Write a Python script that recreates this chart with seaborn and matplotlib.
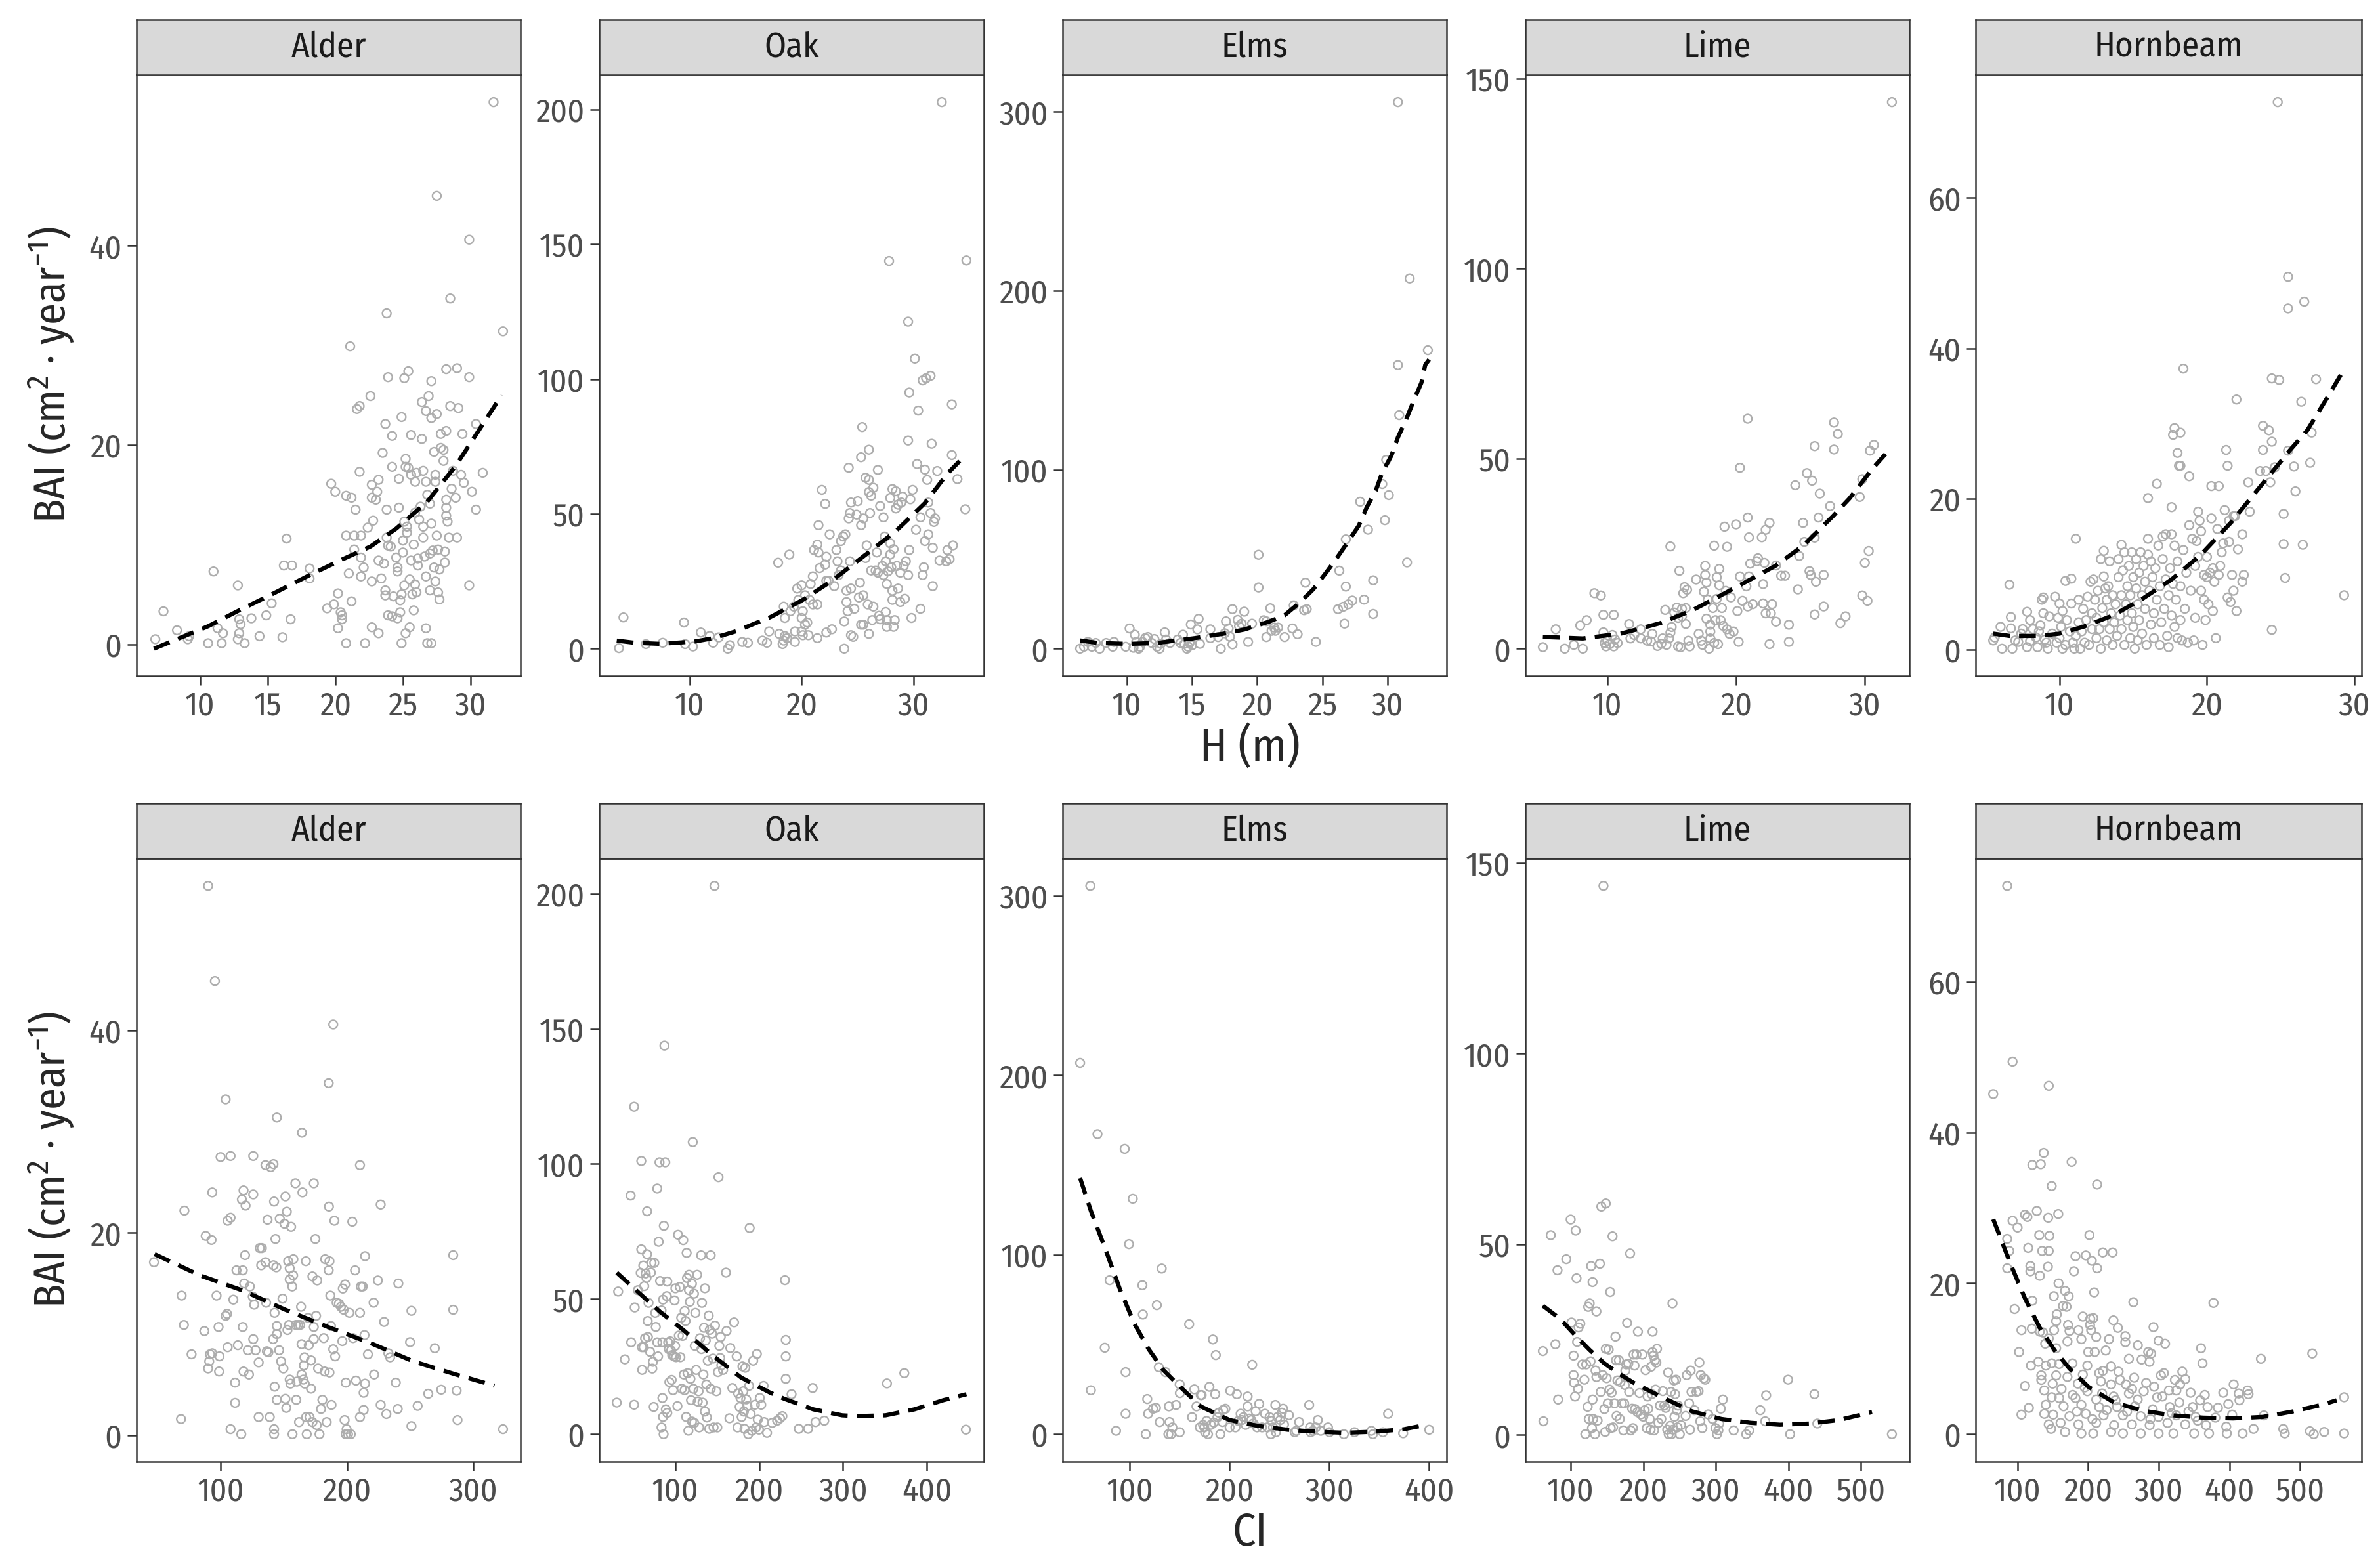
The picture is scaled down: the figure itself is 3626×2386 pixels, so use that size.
import numpy as np
import pandas as pd
import matplotlib
matplotlib.use('Agg')
import matplotlib.pyplot as plt
import seaborn as sns

sns.set_style('ticks')
plt.rcParams['font.family'] = ['Fira Sans Condensed', 'Roboto Condensed', 'IBM Plex Sans Condensed', 'DejaVu Sans']
plt.rcParams['mathtext.fontset'] = 'custom'
plt.rcParams['mathtext.rm'] = 'Fira Sans Condensed'
plt.rcParams['mathtext.it'] = 'Fira Sans Condensed:italic'

species = ['Alder', 'Oak', 'Elms', 'Lime', 'Hornbeam']

# ---- top row: H (m) vs BAI ----
alder_h = [
    (6.7, 0.5), (7.3, 3.3), (8.3, 1.4), (9.1, 0.5), (9.2, 0.8), (10.6, 0.1), (11.0, 7.3), (11.3, 1.6), (11.6, 0.1), (11.7, 1.1),
    (12.8, 5.9), (12.9, 2.5), (13.0, 2.0), (12.9, 1.1), (12.8, 0.5), (13.3, 0.1), (13.8, 2.6), (14.4, 0.8), (14.9, 2.9), (15.3, 4.1),
    (16.1, 0.7), (16.2, 7.9), (16.4, 10.6), (16.8, 7.9), (16.7, 2.5), (18.1, 7.6), (18.1, 6.6), (19.4, 3.6), (19.7, 16.1), (20.0, 15.3),
    (19.9, 4.0), (20.2, 5.1), (20.2, 1.6), (20.4, 3.2), (20.5, 2.5), (20.5, 2.9), (20.8, 14.9), (20.8, 10.9), (20.8, 0.1), (21.0, 7.1),
    (21.1, 29.9), (21.2, 14.7), (21.2, 4.3), (21.4, 10.9), (21.4, 9.5), (21.5, 13.5), (21.6, 23.6), (21.8, 23.9), (21.8, 17.3), (21.9, 6.8),
    (21.9, 8.7), (21.9, 10.9), (22.1, 7.7), (22.2, 0.1), (22.4, 11.7), (22.6, 24.9), (22.7, 16.0), (22.7, 14.7), (22.7, 6.3), (22.7, 1.7),
    (22.8, 12.4), (23.0, 14.5), (23.1, 15.3), (23.2, 16.5), (23.2, 1.1), (23.2, 8.4), (23.4, 6.6), (23.5, 19.2), (23.6, 8.1), (23.7, 5.4),
    (23.7, 4.9), (23.7, 22.1), (23.8, 33.2), (23.8, 13.5), (23.8, 10.7), (23.9, 26.8), (23.9, 9.9), (23.9, 2.9), (24.1, 9.8), (24.2, 2.8),
    (24.2, 17.8), (24.2, 20.9), (24.3, 4.8), (24.5, 8.7), (24.6, 7.7), (24.6, 7.3), (24.6, 2.6), (24.7, 13.7), (24.7, 16.6), (24.8, 4.4),
    (24.8, 3.2), (24.9, 0.1), (24.9, 22.8), (24.9, 5.0), (25.0, 10.4), (25.0, 9.2), (25.1, 12.3), (25.1, 26.7), (25.1, 5.9), (25.2, 1.1),
    (25.2, 17.8), (25.2, 18.6), (25.3, 11.2), (25.3, 11.8), (25.4, 27.4), (25.4, 17.7), (25.5, 1.7), (25.5, 6.5), (25.6, 21.0), (25.6, 8.4),
    (25.6, 17.0), (25.7, 5.0), (25.8, 3.4), (25.8, 10.0), (25.9, 16.3), (25.9, 13.2), (25.9, 6.0), (26.0, 17.2), (26.0, 5.2), (26.1, 8.6),
    (26.1, 7.9), (26.2, 12.5), (26.3, 13.8), (26.4, 20.6), (26.4, 24.3), (26.5, 17.4), (26.5, 11.8), (26.5, 10.7), (26.6, 8.8), (26.7, 1.6),
    (26.7, 23.4), (26.7, 16.3), (26.7, 6.8), (26.8, 15.0), (26.8, 0.1), (26.9, 24.9), (27.0, 5.4), (27.0, 9.1), (27.0, 14.1), (27.1, 0.1),
    (27.1, 26.4), (27.1, 22.7), (27.1, 12.1), (27.2, 9.4), (27.3, 7.7), (27.3, 19.3), (27.4, 6.3), (27.4, 17.0), (27.4, 16.3), (27.5, 10.9),
    (27.5, 23.1), (27.5, 45.0), (27.6, 9.5), (27.6, 5.2), (27.7, 7.5), (27.7, 4.5), (27.8, 19.7), (27.8, 21.1), (28.0, 18.4), (28.0, 19.5),
    (28.1, 9.3), (28.1, 8.2), (28.2, 14.5), (28.2, 27.6), (28.2, 13.7), (28.2, 12.9), (28.2, 21.4), (28.3, 12.3), (28.4, 10.7), (28.5, 34.7),
    (28.5, 23.9), (28.6, 15.6), (28.7, 17.4), (28.9, 14.7), (29.0, 10.7), (29.0, 27.7), (29.1, 23.7), (29.3, 17.0), (29.4, 21.1), (29.5, 16.2),
    (29.9, 5.9), (29.9, 40.6), (29.9, 26.8), (30.1, 15.3), (30.4, 13.5), (30.4, 22.1), (30.9, 17.2), (31.7, 54.4), (32.4, 31.4),
]
alder_h_fit = [(6.6, -0.45), (10.6, 1.8), (12.9, 3.4), (15.3, 5.0), (18.2, 7.0), (20.5, 8.5), (22.6, 9.8),
               (24.5, 11.6), (26.8, 14.3), (28.9, 17.9), (30.2, 20.6), (32.3, 25.0)]

oak_h = [
    (3.7, 0.2), (4.1, 11.6), (6.1, 1.7), (7.6, 2.2), (9.5, 9.7), (9.6, 1.7), (10.3, 0.8), (11.0, 6.0), (11.8, 4.7), (12.1, 2.2),
    (12.6, 4.2), (13.4, 0.0), (13.6, 1.3), (14.7, 2.5), (15.2, 2.2), (16.5, 3.0), (16.9, 2.2), (17.1, 6.4), (17.9, 31.9), (18.0, 5.5),
    (18.3, 1.7), (18.4, 3.0), (18.5, 4.7), (18.4, 15.6), (18.5, 11.4), (18.7, 3.9), (18.9, 34.9), (19.0, 13.9), (19.3, 15.6), (19.4, 6.4),
    (19.4, 2.5), (19.6, 22.3), (19.7, 18.1), (20.0, 23.5), (20.0, 11.4), (20.0, 6.4), (20.1, 13.9), (20.1, 5.0), (20.3, 19.8), (20.3, 8.9),
    (20.5, 9.7), (20.6, 5.0), (20.7, 18.1), (20.8, 24.0), (21.0, 26.8), (21.0, 16.4), (21.1, 36.6), (21.4, 38.6), (21.4, 16.4), (21.4, 3.9),
    (21.5, 45.8), (21.5, 35.7), (21.6, 29.9), (21.8, 58.9), (22.1, 53.7), (22.1, 31.2), (22.2, 25.2), (22.2, 6.0), (22.2, 34.1), (22.4, 25.2),
    (22.5, 42.4), (22.7, 7.2), (22.9, 23.2), (23.1, 36.6), (23.2, 32.4), (23.3, 27.3), (23.5, 29.0), (23.5, 39.9), (23.7, 41.6), (23.8, 10.1),
    (23.8, 0.0), (23.9, 42.4), (24.0, 17.3), (24.0, 21.5), (24.1, 13.9), (24.2, 67.1), (24.2, 48.3), (24.3, 50.3), (24.3, 32.4), (24.4, 22.3),
    (24.4, 5.0), (24.4, 54.2), (24.6, 4.4), (24.7, 14.8), (24.9, 49.7), (25.0, 54.7), (25.1, 19.0), (25.2, 24.5), (25.3, 45.8), (25.3, 8.9),
    (25.3, 71.0), (25.4, 82.2), (25.5, 19.8), (25.5, 48.3), (25.5, 8.9), (25.7, 33.6), (25.7, 63.4), (25.8, 38.3), (25.9, 16.4), (26.0, 5.5),
    (26.0, 58.1), (26.0, 73.8), (26.0, 62.6), (26.1, 50.3), (26.2, 56.7), (26.2, 29.0), (26.3, 10.6), (26.4, 15.6), (26.4, 59.7), (26.6, 29.0),
    (26.7, 35.7), (26.8, 28.2), (26.8, 66.3), (26.9, 12.2), (27.0, 10.9), (27.0, 52.9), (27.2, 30.7), (27.3, 48.7), (27.3, 27.3), (27.4, 41.6),
    (27.5, 13.6), (27.5, 32.4), (27.6, 24.0), (27.6, 8.1), (27.6, 10.6), (27.7, 28.7), (27.8, 143.8), (27.9, 55.9), (27.9, 39.1), (27.9, 34.9),
    (28.0, 30.2), (28.1, 59.2), (28.1, 21.5), (28.1, 18.1), (28.2, 8.1), (28.2, 36.9), (28.3, 10.6), (28.4, 52.0), (28.4, 58.4), (28.5, 30.7),
    (28.6, 53.4), (28.6, 22.3), (28.8, 28.2), (28.8, 17.3), (28.9, 54.2), (29.0, 56.4), (29.1, 30.7), (29.2, 18.5), (29.3, 32.4), (29.5, 121.3),
    (29.5, 77.2), (29.5, 27.3), (29.6, 36.6), (29.6, 95.0), (29.7, 55.4), (29.8, 11.4), (29.9, 58.9), (30.1, 107.6), (30.2, 44.1), (30.3, 68.5),
    (30.4, 88.3), (30.6, 14.8), (30.6, 48.7), (30.8, 27.3), (30.8, 99.5), (30.9, 30.2), (31.0, 39.9), (31.0, 66.4), (31.1, 100.3), (31.2, 62.6),
    (31.3, 54.2), (31.3, 42.4), (31.5, 50.3), (31.5, 101.2), (31.6, 76.0), (31.7, 37.4), (31.7, 23.2), (31.8, 47.0), (31.9, 48.3), (32.1, 65.9),
    (32.3, 32.7), (32.5, 202.7), (32.9, 32.4), (33.0, 36.6), (33.2, 33.2), (33.4, 90.6), (33.4, 71.8), (33.5, 38.3), (33.9, 62.9), (34.7, 144.0),
    (34.6, 51.7),
]
oak_h_fit = [(3.5, 3.0), (5.1, 2.2), (7.4, 1.8), (10.5, 2.7), (12.1, 3.9), (14.1, 6.4), (17.2, 11.7), (20.1, 18.1),
             (22.7, 25.2), (25.5, 34.2), (28.4, 43.6), (31.0, 54.0), (33.0, 64.9), (34.1, 69.6)]

elms_h = [
    (6.4, 0.0), (6.7, 1.1), (7.0, 3.8), (7.3, 1.1), (7.6, 3.2), (7.9, 0.0), (8.4, 3.2), (8.9, 1.1), (9.0, 3.8), (9.9, 1.1),
    (10.2, 11.3), (10.5, 0.5), (10.6, 7.8), (10.7, 3.8), (10.9, 0.0), (11.0, 1.1), (11.2, 3.8), (11.4, 5.9), (11.6, 6.5), (11.9, 3.2),
    (12.1, 5.4), (12.3, 1.1), (12.5, 0.0), (12.6, 2.7), (12.9, 9.1), (13.0, 5.1), (13.3, 3.2), (13.9, 5.1), (14.1, 3.2), (14.3, 7.8),
    (14.4, 2.7), (14.6, 0.0), (14.7, 1.1), (14.8, 3.2), (14.9, 13.5), (15.0, 1.9), (15.4, 10.8), (15.5, 16.7), (15.6, 2.7), (16.4, 10.8),
    (16.4, 5.9), (17.0, 6.5), (17.2, 0.0), (17.5, 8.6), (17.6, 15.3), (17.8, 11.3), (17.9, 6.7), (18.1, 2.4), (18.1, 22.1), (18.5, 16.1),
    (18.6, 12.6), (18.8, 14.0), (19.0, 20.7), (19.3, 3.8), (19.6, 14.0), (20.1, 52.5), (20.1, 34.2), (20.5, 15.9), (20.7, 15.3), (20.7, 6.5),
    (21.0, 22.6), (21.1, 10.0), (21.3, 11.8), (21.4, 10.0), (21.6, 11.8), (22.1, 6.5), (22.7, 11.3), (22.8, 24.2), (23.1, 8.1), (23.6, 21.5),
    (23.7, 36.9), (23.8, 22.1), (24.5, 3.8), (26.2, 22.1), (26.3, 43.6), (26.6, 23.4), (26.7, 14.0), (26.8, 34.7), (26.8, 61.1), (27.0, 24.8),
    (27.3, 26.9), (27.9, 82.1), (28.2, 27.4), (28.5, 66.5), (28.9, 19.4), (28.9, 38.2), (29.6, 92.0), (29.8, 71.8), (29.9, 105.5), (30.1, 85.8),
    (30.8, 305.4), (30.8, 158.5), (30.9, 130.5), (31.5, 48.2), (31.7, 206.9), (33.1, 166.8),
]
elms_h_fit = [(6.4, 4.6), (7.8, 3.2), (10.1, 2.7), (12.3, 3.2), (15.2, 5.9), (17.5, 8.5), (19.0, 10.7), (20.9, 15.1),
              (22.1, 18.7), (23.3, 26.0), (24.3, 33.2), (25.3, 42.6), (26.1, 50.6), (27.0, 60.1), (27.8, 68.8),
              (28.4, 78.9), (29.1, 88.4), (29.6, 98.5), (30.3, 107.9), (30.8, 118.1), (31.4, 127.5), (32.0, 138.4),
              (32.6, 148.6), (32.9, 158.7), (33.2, 161.6)]

lime_h = [
    (5.0, 0.4), (6.0, 5.1), (6.7, 0.0), (7.4, 1.0), (7.9, 6.1), (8.1, 0.0), (8.4, 7.5), (9.0, 14.6), (9.5, 14.0), (9.7, 4.3),
    (9.7, 8.9), (9.8, 1.5), (9.9, 0.6), (10.0, 2.1), (10.2, 1.2), (10.4, 3.6), (10.5, 8.9), (10.5, 0.6), (10.6, 2.4), (10.8, 1.5),
    (11.7, 6.5), (11.8, 2.7), (12.1, 3.6), (12.6, 5.1), (12.6, 2.7), (13.1, 2.1), (13.4, 1.9), (13.5, 3.9), (13.9, 0.7), (14.2, 1.3),
    (14.3, 2.7), (14.5, 10.2), (14.6, 1.0), (14.8, 2.7), (14.9, 4.2), (14.9, 26.9), (15.0, 5.7), (15.2, 9.5), (15.4, 10.8), (15.5, 0.6),
    (15.5, 8.1), (15.6, 20.5), (15.7, 0.4), (15.8, 10.5), (15.8, 8.5), (15.9, 14.6), (16.0, 16.2), (16.1, 6.5), (16.1, 10.7), (16.2, 15.5),
    (16.3, 2.1), (16.4, 0.6), (16.9, 18.2), (17.1, 3.9), (17.3, 2.1), (17.4, 1.0), (17.5, 15.0), (17.6, 21.8), (17.6, 19.4), (17.7, 7.9),
    (17.7, 17.4), (17.8, 12.9), (17.9, 0.0), (18.0, 6.3), (18.0, 2.7), (18.0, 4.5), (18.2, 10.7), (18.3, 27.1), (18.3, 1.5), (18.4, 7.5),
    (18.5, 18.8), (18.5, 13.1), (18.6, 1.2), (18.7, 21.0), (18.7, 16.7), (18.8, 7.5), (18.9, 10.7), (19.0, 6.0), (19.1, 32.1), (19.2, 15.2),
    (19.3, 5.1), (19.3, 26.8), (19.5, 3.9), (19.6, 13.5), (19.8, 4.5), (20.0, 32.7), (20.1, 9.9), (20.2, 1.8), (20.3, 19.0), (20.3, 47.6),
    (20.5, 12.6), (20.8, 16.4), (20.9, 60.5), (20.9, 34.5), (21.0, 29.3), (21.0, 19.0), (20.9, 11.1), (21.1, 22.4), (21.3, 11.7), (21.6, 23.0),
    (21.7, 23.8), (22.0, 29.3), (22.1, 11.9), (22.1, 17.0), (22.2, 22.6), (22.3, 31.3), (22.3, 9.3), (22.6, 33.1), (22.7, 9.3), (22.6, 1.2),
    (22.8, 11.7), (23.1, 7.1), (23.1, 21.9), (23.5, 19.2), (23.8, 19.2), (24.1, 6.3), (24.1, 1.8), (24.6, 43.0), (24.8, 15.6), (24.9, 24.4),
    (25.2, 33.1), (25.3, 28.1), (25.5, 46.2), (25.7, 20.4), (25.8, 19.4), (25.9, 44.2), (26.1, 53.3), (26.1, 9.0), (26.1, 29.2), (26.2, 17.6),
    (26.4, 34.5), (26.5, 40.8), (26.8, 11.1), (26.8, 19.4), (27.3, 37.5), (27.6, 52.4), (27.6, 59.5), (27.9, 56.5), (28.1, 6.7), (28.5, 8.5),
    (29.6, 39.9), (29.8, 44.6), (29.8, 14.0), (30.0, 22.6), (30.2, 12.6), (30.3, 25.7), (30.4, 52.1), (30.7, 53.6), (32.1, 143.8),
]
lime_h_fit = [(5.0, 3.1), (8.1, 2.7), (11.1, 4.0), (14.1, 6.7), (16.6, 10.1), (18.8, 14.0), (21.1, 18.2), (23.1, 21.9),
              (25.2, 27.1), (27.5, 34.8), (28.8, 39.5), (30.6, 47.4), (31.6, 51.2)]

hornbeam_h = [
    (5.5, 1.2), (5.6, 1.6), (6.0, 3.0), (6.1, 0.1), (6.6, 8.6), (6.7, 4.3), (6.7, 2.8), (6.8, 0.1), (7.0, 1.2), (7.2, 1.0),
    (7.4, 2.1), (7.5, 2.7), (7.8, 5.0), (7.8, 0.3), (8.0, 1.1), (8.0, 3.9), (8.2, 2.7), (8.4, 1.6), (8.5, 0.3), (8.6, 2.4),
    (8.7, 3.2), (8.8, 6.6), (8.9, 6.9), (8.9, 4.8), (9.0, 1.3), (9.1, 0.9), (9.2, 0.1), (9.3, 4.4), (9.5, 2.1), (9.7, 7.0),
    (9.8, 0.9), (9.9, 4.2), (10.0, 6.1), (10.0, 1.5), (10.1, 3.0), (10.2, 0.1), (10.2, 5.1), (10.4, 9.1), (10.4, 0.6), (10.5, 3.9),
    (10.7, 2.4), (10.8, 9.4), (10.8, 6.1), (10.9, 0.9), (11.0, 0.1), (11.1, 14.7), (11.1, 1.8), (11.3, 6.6), (11.3, 3.6), (11.4, 0.1),
    (11.5, 2.4), (11.6, 5.4), (11.7, 0.9), (11.8, 3.9), (11.9, 7.0), (12.0, 0.6), (12.1, 9.0), (12.2, 4.8), (12.2, 2.7), (12.3, 9.3),
    (12.4, 6.6), (12.5, 1.5), (12.5, 4.2), (12.6, 7.8), (12.7, 2.7), (12.8, 12.0), (12.8, 0.1), (12.9, 5.5), (13.0, 13.1), (13.0, 9.7),
    (13.0, 3.6), (13.1, 8.1), (13.2, 1.2), (13.2, 6.6), (13.3, 8.4), (13.4, 11.7), (13.4, 2.7), (13.5, 4.8), (13.6, 0.6), (13.6, 7.2),
    (13.7, 3.6), (13.8, 6.0), (13.9, 1.8), (14.0, 9.6), (14.0, 12.0), (14.1, 4.5), (14.2, 13.9), (14.2, 7.2), (14.2, 2.7), (14.3, 10.5),
    (14.4, 12.9), (14.4, 0.6), (14.5, 6.0), (14.6, 8.4), (14.6, 3.9), (14.7, 11.1), (14.8, 1.5), (14.8, 7.2), (14.9, 12.9), (14.9, 4.8),
    (15.0, 9.6), (15.0, 3.0), (15.1, 0.1), (15.2, 8.1), (15.2, 12.0), (15.3, 6.0), (15.3, 1.2), (15.4, 10.2), (15.4, 3.9), (15.5, 12.9),
    (15.6, 7.2), (15.6, 2.1), (15.7, 11.1), (15.8, 5.4), (15.8, 9.0), (15.9, 0.6), (16.0, 12.6), (16.0, 20.1), (16.0, 14.7), (16.1, 7.8),
    (16.2, 3.3), (16.2, 11.7), (16.3, 9.6), (16.4, 4.8), (16.4, 1.5), (16.5, 10.8), (16.6, 22.0), (16.6, 6.6), (16.7, 13.8), (16.8, 0.6),
    (16.8, 8.4), (16.9, 3.6), (17.0, 15.0), (17.0, 12.0), (17.1, 5.4), (17.2, 9.3), (17.2, 15.3), (17.3, 1.8), (17.4, 7.2), (17.4, 0.3),
    (17.5, 10.8), (17.6, 4.5), (17.6, 18.9), (17.6, 15.3), (17.7, 28.5), (17.7, 8.7), (17.8, 29.4), (17.8, 3.0), (17.8, 13.8), (17.9, 6.6),
    (18.0, 26.1), (18.0, 1.5), (18.0, 11.7), (18.1, 24.4), (18.2, 3.9), (18.2, 24.4), (18.2, 28.8), (18.2, 8.4), (18.3, 1.2), (18.4, 37.3),
    (18.4, 13.2), (18.5, 5.4), (18.6, 10.2), (18.7, 0.9), (18.8, 16.5), (18.8, 23.0), (18.9, 7.8), (19.0, 14.7), (19.1, 1.2), (19.2, 11.1),
    (19.2, 4.2), (19.3, 14.4), (19.4, 18.3), (19.4, 12.3), (19.5, 17.1), (19.6, 7.8), (19.6, 15.7), (19.7, 0.6), (19.8, 9.9), (19.8, 6.6),
    (19.9, 3.9), (20.0, 12.3), (20.0, 9.6), (20.1, 6.0), (20.2, 10.2), (20.3, 21.7), (20.3, 17.4), (20.4, 5.1), (20.4, 10.8), (20.5, 9.0),
    (20.6, 1.5), (20.7, 16.0), (20.8, 21.7), (20.8, 9.9), (20.9, 11.1), (21.0, 12.9), (21.1, 14.1), (21.2, 18.5), (21.3, 26.5), (21.4, 24.4),
    (21.4, 6.9), (21.5, 14.3), (21.5, 17.1), (21.6, 6.3), (21.7, 9.9), (21.8, 17.7), (21.8, 7.8), (21.9, 17.7), (22.0, 5.1), (22.0, 33.2),
    (22.1, 13.3), (22.4, 9.0), (22.4, 15.3), (22.5, 9.9), (22.8, 22.2), (22.9, 18.3), (23.6, 23.7), (23.8, 26.5), (23.8, 29.7), (24.0, 23.7),
    (24.2, 29.1), (24.3, 22.2), (24.4, 27.6), (24.4, 36.0), (24.4, 2.6), (24.6, 24.2), (24.8, 72.7), (24.9, 35.8), (25.2, 18.0), (25.2, 14.0),
    (25.3, 9.5), (25.5, 49.5), (25.5, 45.3), (25.5, 26.4), (25.9, 24.3), (26.0, 21.0), (26.4, 32.9), (26.5, 13.9), (26.6, 46.2), (27.0, 24.8),
    (27.1, 28.8), (27.4, 35.9), (29.3, 7.2),
]
hornbeam_h_fit = [(5.5, 2.1), (6.6, 1.8), (8.6, 1.8), (10.0, 2.1), (11.6, 3.0), (13.6, 4.5), (15.6, 6.7), (17.6, 9.3),
                  (19.6, 12.6), (21.6, 16.8), (23.6, 21.6), (25.6, 26.4), (26.8, 29.1), (28.3, 33.9), (29.3, 37.2)]

# ---- bottom row: CI vs BAI ----
alder_ci = [
    (47, 17.1), (68.4, 1.6), (68.9, 13.8), (70.7, 10.9), (71.1, 22.2), (76.8, 8.0), (86.9, 10.3), (88.0, 19.7), (89.9, 54.3), (89.9, 6.6),
    (90.8, 7.3), (91.4, 8.0), (92.6, 19.3), (93.2, 24.0), (93.2, 8.1), (95.3, 44.9), (96.6, 13.8), (98.6, 6.3), (98.9, 7.8), (98.2, 10.7),
    (99.8, 27.5), (103.8, 33.2), (103.8, 11.8), (104.9, 12.0), (105.4, 21.2), (105.4, 8.7), (107.7, 21.5), (107.7, 27.6), (107.7, 0.6), (109.9, 13.4),
    (111.3, 5.2), (111.3, 3.2), (112.4, 16.3), (113.5, 8.9), (116.2, 0.1), (116.7, 23.3), (117.4, 16.3), (117.4, 10.7), (118.0, 24.2), (118.5, 15.0),
    (118.0, 6.3), (119.2, 17.8), (119.6, 22.7), (121.4, 8.4), (122.3, 6.0), (123.0, 14.7), (125.3, 13.7), (125.7, 9.5), (125.7, 27.6), (125.7, 23.8),
    (126.4, 12.9), (127.5, 8.4), (130.0, 1.8), (130.0, 7.2), (130.9, 18.5), (132.0, 16.8), (132.5, 18.5), (135.4, 17.1), (136.5, 8.3), (137.0, 21.3),
    (135.9, 13.1), (137.7, 8.2), (138.8, 1.8), (135.4, 26.7), (139.5, 26.5), (141.7, 26.8), (141.7, 16.8), (141.5, 9.5), (142.2, 0.6), (142.2, 0.1),
    (142.6, 12.1), (142.6, 4.8), (142.2, 23.1), (143.3, 19.4), (144.0, 16.6), (144.4, 10.8), (144.4, 10.0), (144.4, 3.5), (144.4, 31.4), (146.2, 8.4),
    (146.7, 21.4), (147.8, 7.3), (148.9, 13.5), (149.6, 6.6), (150.5, 20.9), (151.2, 23.6), (151.2, 3.6), (151.9, 2.7), (152.3, 22.1), (152.8, 10.4),
    (153.4, 17.2), (153.9, 10.9), (154.6, 16.5), (154.6, 15.4), (154.6, 5.5), (155.2, 5.1), (155.7, 20.6), (156.6, 14.7), (156.8, 0.1), (157.3, 15.8),
    (157.5, 17.4), (159.1, 24.9), (159.5, 10.9), (159.8, 3.5), (160.2, 5.3), (161.3, 10.9), (162.0, 1.3), (162.9, 10.9), (163.6, 12.7), (164.0, 9.0),
    (164.0, 6.0), (164.3, 29.9), (164.7, 24.0), (165.4, 5.5), (165.8, 6.9), (166.3, 7.7), (166.5, 5.1), (167.4, 17.2), (167.6, 1.8), (168.1, 0.1),
    (169.2, 11.6), (169.7, 8.9), (170.3, 1.8), (171.5, 7.4), (171.5, 4.6), (172.6, 15.7), (172.6, 1.3), (173.7, 10.7), (173.7, 9.5), (173.7, 24.9),
    (174.9, 19.4), (175.5, 11.8), (176.0, 1.0), (176.4, 15.3), (177.1, 6.6), (178.2, 0.1), (179.4, 2.6), (180.5, 3.5), (181.6, 9.6), (182.3, 6.3),
    (182.7, 17.4), (183.9, 1.3), (185.5, 34.8), (185.5, 16.3), (185.7, 22.6), (186.1, 17.2), (186.1, 6.2), (186.8, 13.8), (187.3, 10.8), (187.7, 3.0),
    (189.1, 40.6), (189.1, 8.5), (190.0, 21.2), (190.6, 7.8), (191.8, 13.1), (193.6, 13.0), (195.2, 12.7), (196.3, 9.3), (196.7, 14.5), (197.4, 12.4),
    (198.1, 1.5), (198.5, 14.9), (199.0, 5.2), (199.0, 0.1), (199.7, 0.6), (200.8, 0.1), (201.9, 12.1), (203.0, 0.1), (204.2, 21.1), (204.8, 9.6),
    (206.4, 16.3), (207.1, 5.4), (210.3, 1.8), (210.3, 26.7), (210.3, 12.1), (211.0, 14.7), (212.5, 14.7), (213.2, 2.5), (213.2, 4.2), (214.3, 17.7),
    (214.3, 5.1), (213.9, 9.9), (216.6, 8.0), (221.1, 13.1), (221.5, 6.0), (224.5, 15.3), (226.7, 22.8), (226.7, 3.0), (229.4, 11.2), (231.2, 2.1),
    (232.8, 8.1), (234.2, 7.7), (238.7, 5.2), (240.2, 2.6), (240.7, 15.0), (250.0, 9.2), (251.1, 12.3), (251.1, 0.9), (256.0, 2.9), (264.4, 4.1),
    (269.6, 8.6), (274.7, 4.5), (284.2, 17.8), (284.2, 12.4), (286.9, 4.4), (287.6, 1.5), (323.7, 0.6),
]
alder_ci_fit = [(47.5, 17.9), (83.5, 15.8), (117.4, 14.3), (151.2, 12.4), (185.0, 10.7), (218.8, 9.1),
                (252.6, 7.3), (286.5, 6.0), (316.9, 4.9)]

oak_ci = [
    (30, 11.7), (31.7, 52.8), (39.7, 27.7), (46.6, 88.3), (47.2, 34.0), (50.7, 121.2), (50.7, 10.9), (51.4, 46.9), (55.2, 53.3), (58.6, 59.7),
    (59.3, 68.4), (59.3, 101.1), (60.0, 32.2), (60.3, 23.8), (61.7, 62.4), (62.1, 32.2), (62.8, 54.8), (63.8, 35.5), (64.5, 59.5), (65.5, 57.8),
    (66.2, 82.5), (66.2, 66.6), (66.9, 41.9), (67.2, 36.0), (67.9, 48.6), (69.7, 30.5), (70.7, 59.8), (71.4, 63.4), (72.4, 24.3), (73.1, 26.8),
    (74.1, 10.1), (74.8, 63.4), (75.9, 44.9), (76.6, 39.7), (78.3, 34.0), (78.3, 90.9), (79.3, 28.8), (80.0, 71.2), (81.0, 100.6), (81.7, 56.7),
    (83.4, 45.8), (83.4, 2.5), (84.5, 13.4), (84.5, 34.0), (85.2, 6.4), (85.2, 49.8), (85.9, 0.0), (86.2, 77.1), (86.9, 143.8), (87.9, 100.6),
    (88.6, 9.2), (89.7, 51.1), (90.3, 56.5), (90.3, 7.9), (91.4, 34.0), (92.1, 31.5), (92.8, 19.3), (93.8, 34.4), (94.8, 31.0), (95.5, 20.1),
    (96.2, 29.3), (97.2, 16.3), (98.3, 28.8), (99.0, 49.5), (99.7, 32.7), (100.0, 54.0), (100.7, 28.5), (102.4, 10.4), (103.1, 73.8), (104.1, 36.5),
    (105.2, 54.5), (105.9, 28.5), (106.9, 43.1), (107.6, 16.8), (108.6, 36.4), (109.3, 71.8), (110.0, 22.1), (111.0, 45.6), (111.0, 16.3), (112.1, 41.9),
    (112.8, 6.4), (113.4, 67.1), (113.8, 57.8), (114.5, 22.6), (115.5, 1.3), (116.2, 59.0), (116.2, 53.3), (117.2, 49.0), (117.9, 20.5), (118.6, 12.6),
    (119.7, 4.7), (119.7, 55.7), (120.7, 108.1), (121.4, 16.8), (122.1, 52.0), (122.4, 4.2), (123.1, 32.7), (123.8, 44.9), (124.8, 23.8), (125.9, 59.0),
    (126.6, 12.1), (127.6, 15.9), (128.3, 2.5), (129.3, 35.5), (130.7, 66.2), (131.0, 31.5), (131.7, 48.6), (132.4, 11.7), (133.4, 22.1), (134.1, 39.4),
    (135.2, 54.0), (135.2, 8.4), (136.2, 34.7), (136.9, 18.4), (137.6, 6.2), (138.6, 27.2), (139.7, 43.9), (140.3, 2.0), (141.0, 38.6), (142.1, 66.2),
    (142.1, 16.8), (143.8, 37.2), (144.8, 28.0), (145.5, 2.5), (146.6, 202.9), (147.2, 40.2), (148.9, 15.9), (150.0, 2.5), (150.7, 23.0), (151.4, 95.1),
    (152.4, 32.7), (153.4, 28.2), (154.1, 36.0), (154.8, 25.5), (156.9, 23.8), (160.3, 59.8), (161.0, 38.2), (164.5, 5.9), (165.5, 31.9), (167.9, 17.1),
    (170.0, 41.4), (173.1, 28.8), (174.1, 2.5), (174.8, 15.1), (176.6, 10.1), (177.6, 13.4), (179.0, 6.4), (180.0, 25.1), (181.0, 15.9), (181.7, 8.4),
    (182.4, 2.0), (183.4, 24.6), (184.5, 12.9), (185.9, 10.4), (186.9, 0.0), (187.9, 17.9), (188.6, 76.3), (189.7, 7.5), (191.4, 1.3), (192.8, 27.2),
    (194.8, 10.9), (196.2, 2.5), (197.2, 29.7), (198.3, 5.4), (199.7, 1.7), (200.7, 13.4), (202.4, 10.9), (205.2, 17.9), (205.9, 4.5), (209.3, 0.5),
    (215.5, 4.2), (221.4, 5.0), (224.8, 5.9), (227.6, 6.7), (230.7, 57.0), (231.7, 34.9), (231.7, 28.8), (231.7, 20.5), (238.6, 14.8), (247.2, 2.0),
    (258.3, 2.0), (263.8, 17.1), (267.2, 4.5), (277.6, 5.0), (352.4, 18.8), (373.1, 22.6), (446.6, 1.7),
]
oak_ci_fit = [(30, 59.8), (57.6, 52.0), (81.7, 45.3), (109.3, 38.6), (143.8, 29.3), (178.3, 21.0), (212.8, 15.4),
              (230.0, 13.1), (264.5, 9.2), (299.0, 7.0), (316.2, 6.7), (350.7, 7.0), (385.2, 9.2), (419.7, 12.6), (447.2, 14.8)]

elms_ci = [
    (50.1, 206.9), (60.3, 305.5), (60.9, 24.5), (67.5, 167.2), (74.8, 48.2), (79.7, 85.8), (86.1, 1.9), (94.8, 159.0), (95.7, 34.6), (95.7, 11.4),
    (99.1, 105.9), (102.9, 131.2), (112.5, 83.0), (113.0, 66.7), (115.9, 0.0), (117.4, 19.6), (118.3, 11.4), (123.2, 14.2), (126.1, 14.7), (127.0, 71.9),
    (129.0, 37.3), (129.9, 6.8), (131.9, 92.3), (135.7, 34.6), (138.6, 0.0), (139.1, 15.5), (139.7, 6.8), (141.4, 0.0), (142.6, 3.8), (146.4, 16.3),
    (149.9, 1.1), (149.9, 27.8), (150.1, 22.9), (159.4, 61.3), (162.3, 9.5), (164.6, 25.0), (166.7, 15.5), (170.1, 3.8), (171.0, 21.8), (171.9, 21.8),
    (173.3, 5.2), (174.5, 3.8), (175.4, 1.1), (176.8, 7.4), (178.3, 0.0), (179.7, 26.4), (181.2, 5.2), (183.2, 52.8), (184.1, 6.5), (185.5, 22.3),
    (186.1, 44.1), (187.8, 9.5), (189.0, 12.0), (190.7, 0.0), (192.8, 6.8), (193.6, 13.6), (195.7, 14.2), (200.0, 3.8), (200.6, 24.2), (205.8, 3.8),
    (207.2, 22.3), (208.7, 7.4), (211.0, 11.4), (212.2, 7.9), (213.9, 9.5), (216.0, 5.2), (218.0, 21.0), (218.0, 15.5), (219.7, 8.7), (221.7, 7.9),
    (222.6, 38.7), (223.8, 6.0), (226.1, 12.8), (227.5, 3.8), (229.6, 16.9), (232.5, 3.8), (235.4, 11.4), (237.7, 3.8), (240.0, 9.5), (241.4, 0.0),
    (242.0, 7.4), (243.5, 3.8), (245.8, 16.3), (246.4, 1.1), (247.8, 9.5), (250.7, 7.9), (252.2, 12.0), (253.6, 14.2), (254.5, 5.4), (259.4, 10.6),
    (265.2, 1.1), (266.7, 1.9), (269.6, 6.8), (279.7, 16.3), (280.6, 3.8), (281.2, 1.1), (283.5, 1.9), (286.4, 3.8), (288.4, 7.9), (291.3, 1.9),
    (298.6, 3.8), (300.0, 1.1), (314.5, 0.0), (325.2, 1.1), (342.0, 1.9), (343.5, 0.0), (353.6, 1.1), (358.8, 11.4), (373.9, 0.5), (400.0, 2.5),
]
elms_ci_fit = [(50.1, 142.7), (60.9, 124.4), (75.4, 103.2), (89.9, 80.9), (104.3, 61.8), (118.8, 47.4), (133.3, 35.9),
               (147.8, 27.8), (171.0, 15.5), (200.0, 7.9), (229.0, 4.6), (258.0, 2.5), (287.0, 1.4), (315.8, 0.8),
               (345.0, 1.4), (374.0, 2.7), (391.3, 4.6)]

lime_ci = [
    (61.7, 22.0), (62.5, 3.6), (72.6, 52.4), (79.0, 23.8), (81.9, 43.2), (82.7, 9.3), (94.0, 46.1), (100.0, 56.5), (101.2, 29.5), (104.0, 20.8),
    (104.0, 15.7), (104.8, 13.7), (106.0, 10.1), (106.9, 53.6), (108.1, 41.1), (108.9, 24.4), (110.1, 12.1), (110.9, 28.2), (113.3, 29.2), (116.1, 18.5),
    (118.9, 14.5), (120.2, 0.2), (121.4, 18.5), (123.4, 7.4), (124.2, 33.6), (125.0, 4.2), (126.2, 34.5), (127.4, 19.3), (128.2, 44.3), (129.4, 1.8),
    (130.2, 40.1), (130.2, 9.3), (131.0, 4.2), (133.5, 0.2), (134.3, 16.9), (135.5, 32.4), (135.5, 15.2), (137.1, 3.8), (140.3, 44.9), (141.5, 11.3),
    (142.3, 59.9), (144.4, 15.7), (145.2, 144.0), (146.4, 6.8), (147.6, 0.8), (148.4, 60.7), (148.4, 22.6), (149.6, 14.9), (151.2, 8.3), (152.4, 22.4),
    (153.6, 11.9), (154.4, 37.5), (155.2, 1.8), (156.5, 11.1), (157.7, 52.1), (158.5, 2.0), (160.5, 8.3), (161.7, 25.8), (162.5, 19.6), (163.3, 5.0),
    (164.5, 14.3), (166.5, 19.6), (167.7, 4.2), (168.5, 13.9), (170.6, 8.3), (172.6, 1.2), (173.8, 8.3), (174.6, 13.1), (175.4, 16.9), (176.6, 18.5),
    (177.8, 29.4), (179.4, 18.7), (180.6, 11.3), (181.9, 47.6), (182.7, 1.2), (184.7, 6.9), (185.9, 1.8), (186.7, 21.1), (188.0, 18.2), (188.7, 6.8),
    (190.7, 21.1), (192.0, 6.0), (192.7, 27.1), (194.8, 11.0), (196.8, 5.4), (198.8, 21.1), (200.0, 4.8), (202.0, 6.5), (203.2, 17.0), (204.8, 1.8),
    (206.0, 10.1), (206.9, 6.9), (208.9, 4.2), (210.1, 1.4), (210.9, 17.9), (211.7, 10.7), (212.9, 21.7), (212.9, 27.1), (214.1, 20.8), (214.9, 1.2),
    (216.1, 19.6), (216.9, 11.9), (218.1, 19.0), (219.0, 22.6), (221.0, 3.2), (223.0, 7.7), (225.0, 4.2), (227.0, 11.5), (229.0, 7.7), (231.0, 7.1),
    (233.1, 1.4), (234.3, 16.4), (235.1, 0.2), (235.9, 8.3), (237.1, 2.4), (238.3, 11.3), (239.1, 0.2), (240.3, 34.5), (241.1, 1.4), (242.3, 14.3),
    (243.1, 4.8), (243.9, 10.7), (245.2, 14.5), (246.4, 6.5), (247.2, 2.0), (248.0, 7.7), (250.4, 0.2), (252.0, 2.6), (258.5, 5.0), (260.1, 15.7),
    (263.3, 8.3), (264.5, 1.4), (265.3, 16.9), (266.5, 11.3), (270.6, 6.5), (273.4, 11.3), (276.2, 11.5), (277.4, 19.0), (278.6, 3.6), (279.4, 15.7),
    (281.5, 1.8), (283.5, 14.9), (285.5, 14.5), (289.5, 5.4), (295.6, 4.2), (299.6, 1.8), (301.6, 0.2), (303.6, 1.2), (304.8, 3.0), (306.9, 6.9),
    (309.7, 9.3), (324.6, 1.2), (341.9, 0.2), (346.0, 1.2), (361.3, 6.5), (368.1, 3.6), (369.4, 10.4), (399.6, 14.5), (402.4, 0.2), (435.9, 10.7),
    (439.9, 3.0), (542.7, 0.2),
]
lime_ci_fit = [(61.7, 33.9), (85.9, 30.4), (106.0, 26.2), (126.2, 22.3), (146.4, 18.8), (166.5, 16.1), (186.7, 13.7),
               (227.0, 9.8), (267.3, 6.2), (307.7, 4.2), (348.0, 3.2), (388.3, 2.7), (428.6, 3.0), (468.9, 3.9), (515.3, 6.0)]

hornbeam_ci = [
    (65.5, 45.1), (85.3, 72.7), (92.9, 49.4), (144.1, 46.2), (137.0, 37.3), (121.0, 35.7), (132.8, 35.8), (176.5, 36.1), (148.3, 32.9), (212.6, 33.1),
    (127.3, 29.6), (110.5, 29.1), (113.9, 28.8), (92.9, 28.3), (143.3, 28.7), (157.6, 29.2), (100.0, 27.4), (130.7, 26.4), (145.0, 26.3), (85.3, 25.9),
    (201.7, 26.4), (115.1, 24.7), (88.2, 24.3), (134.9, 24.3), (144.1, 24.3), (220.6, 24.1), (234.5, 24.1), (181.9, 23.6), (196.6, 23.7), (205.0, 23.0),
    (85.3, 22.0), (118.1, 22.3), (118.1, 21.6), (142.9, 22.2), (212.6, 22.0), (179.8, 21.6), (131.5, 21.0), (158.0, 20.0), (208.4, 18.8), (167.2, 19.0),
    (172.3, 18.3), (151.3, 18.3), (121.0, 17.7), (164.3, 17.0), (169.3, 16.9), (263.9, 17.5), (377.3, 17.4), (95.8, 16.6), (155.5, 15.9), (192.4, 15.6),
    (202.9, 15.3), (207.1, 15.4), (235.7, 15.1), (154.6, 15.0), (171.4, 14.5), (202.5, 14.5), (242.0, 14.1), (292.4, 14.2), (105.5, 13.8), (120.2, 14.0),
    (131.5, 13.6), (135.7, 13.5), (151.7, 13.8), (173.5, 13.7), (186.1, 13.8), (204.2, 13.8), (144.1, 12.7), (170.6, 12.3), (190.3, 12.6), (211.3, 12.9),
    (229.4, 12.6), (252.5, 13.0), (252.5, 12.2), (270.2, 11.8), (299.6, 12.4), (308.8, 12.0), (359.7, 11.4), (102.1, 10.9), (139.1, 12.0), (154.6, 11.4),
    (200.0, 10.9), (209.2, 10.9), (224.8, 11.1), (284.9, 10.9), (517.2, 10.7), (444.5, 10.0), (129.4, 9.6), (148.3, 9.4), (177.7, 9.4), (232.3, 9.0),
    (257.6, 10.0), (275.6, 9.9), (289.1, 10.7), (361.8, 9.4), (118.9, 9.1), (139.9, 9.1), (158.8, 9.3), (198.7, 9.1), (220.6, 8.4), (242.9, 8.3),
    (286.8, 9.6), (333.2, 8.3), (133.6, 7.8), (154.6, 7.8), (192.4, 7.9), (215.5, 8.1), (265.1, 7.5), (302.9, 7.8), (307.1, 8.1), (322.7, 7.2),
    (337.4, 7.3), (133.6, 7.2), (170.6, 7.6), (110.5, 6.4), (149.6, 6.7), (185.3, 6.7), (232.3, 6.6), (253.4, 6.6), (293.3, 6.3), (314.3, 5.8),
    (324.8, 5.8), (405.9, 6.6), (137.8, 5.8), (162.2, 6.0), (198.7, 5.7), (219.7, 5.4), (257.6, 5.4), (278.6, 5.7), (345.0, 5.5), (391.2, 5.5),
    (413.0, 5.4), (425.6, 5.8), (426.9, 5.3), (148.3, 4.9), (158.8, 4.8), (181.9, 4.8), (211.3, 4.6), (238.7, 4.5), (297.5, 4.9), (414.1, 4.5),
    (562.2, 4.9), (358.4, 4.5), (329.0, 4.2), (139.9, 3.9), (165.1, 3.7), (190.3, 3.9), (215.5, 3.6), (240.8, 3.6), (266.0, 3.7), (291.2, 3.3),
    (315.5, 3.6), (347.9, 3.6), (368.9, 3.6), (383.6, 3.5), (398.3, 4.0), (116.0, 3.5), (105.5, 2.6), (137.8, 2.7), (150.4, 2.6), (173.5, 2.4),
    (196.6, 2.7), (221.8, 2.5), (249.2, 2.5), (274.4, 2.4), (299.6, 2.3), (324.8, 2.5), (352.1, 2.3), (403.8, 2.6), (448.7, 2.5), (144.1, 1.3),
    (160.9, 1.5), (186.1, 1.3), (211.3, 1.5), (236.6, 1.2), (261.8, 1.3), (287.0, 1.2), (312.2, 1.5), (337.4, 1.3), (366.8, 1.2), (395.4, 1.0),
    (434.0, 0.7), (476.1, 0.7), (513.9, 0.4), (147.5, 0.7), (167.2, 0.3), (190.3, 0.1), (207.1, 0.1), (232.4, 0.3), (249.2, 0.1), (274.4, 0.1),
    (299.6, 0.1), (320.6, 0.1), (350.0, 0.1), (371.0, 0.1), (396.2, 0.1), (418.5, 0.1), (478.2, 0.1), (519.3, 0.0), (534.0, 0.3), (562.2, 0.1),
    (178.0, 5.2), (184.0, 3.0), (195.0, 6.2), (206.0, 2.0), (218.0, 7.0), (226.0, 3.2), (236.0, 5.0), (245.0, 7.2), (255.0, 3.0), (262.0, 6.0),
    (270.0, 4.6), (282.0, 6.8), (288.0, 2.0), (305.0, 5.0), (318.0, 2.8), (330.0, 6.6), (342.0, 3.0), (355.0, 1.8), (365.0, 5.2), (380.0, 2.2),
]
hornbeam_ci_fit = [(65.5, 28.5), (89.5, 22.7), (110.5, 18.0), (131.5, 14.1), (152.5, 11.1), (173.5, 8.7), (200.0, 6.3),
                   (236.6, 4.2), (278.6, 3.1), (320.6, 2.5), (362.6, 2.2), (405.0, 2.1), (447.5, 2.3), (488.7, 3.0),
                   (530.7, 3.9), (551.7, 4.5)]

points_h = {'Alder': alder_h, 'Oak': oak_h, 'Elms': elms_h, 'Lime': lime_h, 'Hornbeam': hornbeam_h}
fits_h = {'Alder': alder_h_fit, 'Oak': oak_h_fit, 'Elms': elms_h_fit, 'Lime': lime_h_fit, 'Hornbeam': hornbeam_h_fit}
points_ci = {'Alder': alder_ci, 'Oak': oak_ci, 'Elms': elms_ci, 'Lime': lime_ci, 'Hornbeam': hornbeam_ci}
fits_ci = {'Alder': alder_ci_fit, 'Oak': oak_ci_fit, 'Elms': elms_ci_fit, 'Lime': lime_ci_fit, 'Hornbeam': hornbeam_ci_fit}

yticks = {'Alder': [0, 20, 40], 'Oak': [0, 50, 100, 150, 200], 'Elms': [0, 100, 200, 300],
          'Lime': [0, 50, 100, 150], 'Hornbeam': [0, 20, 40, 60]}
xticks_h = {'Alder': [10, 15, 20, 25, 30], 'Oak': [10, 20, 30], 'Elms': [5, 10, 15, 20, 25, 30],
            'Lime': [10, 20, 30], 'Hornbeam': [10, 20, 30]}
xticks_ci = {'Alder': [100, 200, 300], 'Oak': [100, 200, 300, 400], 'Elms': [100, 200, 300, 400],
             'Lime': [100, 200, 300, 400, 500], 'Hornbeam': [100, 200, 300, 400, 500]}

# ---- layout in pixels ----
W, H = 3626, 2386
fig = plt.figure(figsize=(W / 200, H / 200), dpi=200)

col_left = [208, 913, 1619, 2324, 3010]
col_w = [585, 586, 585, 585, 588]
rows = [
    dict(strip=(30, 114), panel=(114, 1030), pts=points_h, fits=fits_h, xt=xticks_h),
    dict(strip=(1224, 1308), panel=(1308, 2227), pts=points_ci, fits=fits_ci, xt=xticks_ci),
]

def px_axes(l, t, w, h):
    return fig.add_axes([l / W, 1 - (t + h) / H, w / W, h / H])

for row in rows:
    for i, sp in enumerate(species):
        l, w = col_left[i], col_w[i]
        t0, t1 = row['panel']
        ax = px_axes(l, t0, w, t1 - t0)
        pts = pd.DataFrame(row['pts'][sp], columns=['x', 'y'])
        fit = pd.DataFrame(row['fits'][sp], columns=['x', 'y'])
        sns.scatterplot(data=pts, x='x', y='y', ax=ax, marker='o', s=22,
                        fc='none', ec='#ADADAD', linewidth=0.85, zorder=2)
        sns.lineplot(data=fit, x='x', y='y', ax=ax, color='black', linewidth=2.3,
                     linestyle=(0, (4.0, 2.2)), errorbar=None, zorder=3)
        ax.set_xticks(row['xt'][sp])
        ax.set_yticks(yticks[sp])
        ax.margins(0.05)
        ax.set_xlabel('')
        ax.set_ylabel('')
        for s in ax.spines.values():
            s.set_color('#333333')
            s.set_linewidth(0.9)
        ax.tick_params(axis='both', direction='out', length=5, width=0.9, color='#333333',
                       labelcolor='#4D4D4D', labelsize=18, pad=3)

        s0, s1 = row['strip']
        sax = px_axes(l, s0, w, s1 - s0)
        sax.set_facecolor('#D9D9D9')
        sax.set_xticks([])
        sax.set_yticks([])
        for s in sax.spines.values():
            s.set_color('#333333')
            s.set_linewidth(0.9)
        sax.text(0.5, 0.5, sp, ha='center', va='center', fontsize=19, color='#1A1A1A',
                 transform=sax.transAxes)

ylab = r'BAI (cm$^{2}$ $\cdot$ year$^{-1}$)'
fig.text(78 / W, 1 - 571 / H, ylab, rotation=90, ha='center', va='center', fontsize=24)
fig.text(78 / W, 1 - 1767 / H, ylab, rotation=90, ha='center', va='center', fontsize=24)
fig.text(1904 / W, 1 - 1140 / H, 'H (m)', ha='center', va='center', fontsize=25)
fig.text(1904 / W, 1 - 2336 / H, 'CI', ha='center', va='center', fontsize=25)

fig.savefig('out.png', dpi=200, facecolor='white')
